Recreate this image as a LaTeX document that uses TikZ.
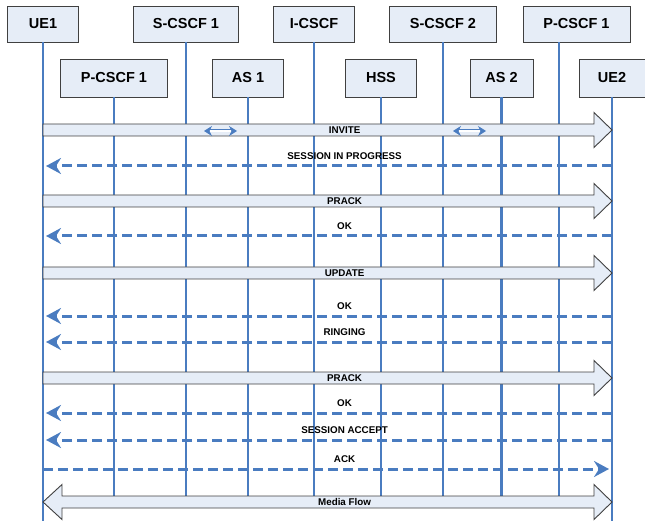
\documentclass[tikz,border=0pt]{standalone}
\usepackage{fontspec}
\setmainfont{Liberation Sans}
\usetikzlibrary{calc,arrows.meta}
\definecolor{lifeBlue}{RGB}{74,124,192}
\definecolor{boxFill}{RGB}{230,237,247}
\definecolor{boxLine}{RGB}{64,64,64}
\newcommand{\BlockMsg}[2]{%
  \draw[blockmsg] ($(ue1.south |- 0,#1)+(0,-6)$) -- ($(ue2.south |- 0,#1)+(-18,-6)$) -- ++(0,-11.5)
    -- (ue2.south |- 0,#1) -- ++(-18,17.5) -- ++(0,-11.5) -- ($(ue1.south |- 0,#1)+(0,6)$) -- cycle;
  \node[msglabel] (m#1) at ($(ue1.south |- 0,#1)!0.53!(ue2.south |- 0,#1)$) {#2};}
\newcommand{\DashMsg}[4]{%
  \draw[dashmsg] (#1.south |- 0,#3) -- (#2.south |- 0,#3);
  \node[msglabel] (m#3) at ($(ue1.south |- 0,#3)!0.53!(ue2.south |- 0,#3)+(0,-10)$) {#4};}

\begin{document}
\begin{tikzpicture}[x=1pt,y=-1pt,
  entity/.style={draw=boxLine,fill=boxFill,line width=0.9pt,inner sep=0pt,minimum height=36pt,
    font=\fontsize{14.5}{16}\selectfont\bfseries},
  lifeline/.style={draw=lifeBlue,line width=2.7pt},
  msglabel/.style={inner sep=0pt,font=\fontsize{9.8}{11}\selectfont\bfseries},
  blockmsg/.style={draw=boxLine,fill=boxFill,line width=0.9pt,line join=miter},
  dashmsg/.style={draw=lifeBlue,line width=3pt,dash pattern=on 10pt off 5pt,shorten >=3pt,
    -{Stealth[length=15pt,width=16pt,inset=5pt]}},
  asloop/.style={draw=lifeBlue,line width=0.7pt,double=white,double distance=1.6pt,
    {Stealth[length=8pt,width=10pt]}-{Stealth[length=8pt,width=10pt]}}]
\useasboundingbox (0,0) rectangle (645,521);

\node[entity,minimum width=71pt] (ue1) at (43,24) {UE1};
\node[entity,minimum width=105pt] (scscf1) at (186,24) {S-CSCF 1};
\node[entity,minimum width=81pt] (icscf) at (314,24) {I-CSCF};
\node[entity,minimum width=107pt] (scscf2) at (443,24) {S-CSCF 2};
\node[entity,minimum width=107pt] (pcscf2) at (576.5,24) {P-CSCF 1};
\node[entity,minimum width=107pt,minimum height=38pt] (pcscf1) at (114,78) {P-CSCF 1};
\node[entity,minimum width=71pt,minimum height=38pt] (as1) at (248,78) {AS 1};
\node[entity,minimum width=71pt,minimum height=38pt] (hss) at (381,78) {HSS};
\node[entity,minimum width=63pt,minimum height=38pt] (as2) at (501.5,78) {AS 2};
\node[entity,minimum width=66pt,minimum height=38pt] (ue2) at (612,78) {UE2};
\coordinate (pcscf2l) at ([xshift=-17.5pt]pcscf2.south);

\draw[lifeline] (ue1.south) -- (ue1.south |- 0,521);
\draw[lifeline] (ue2.south) -- (ue2.south |- 0,521);
\foreach \n in {pcscf1,scscf1,as1,icscf,hss,scscf2,as2,pcscf2l}
  \draw[lifeline] (\n) -- (\n |- 0,497);

\BlockMsg{130}{INVITE}
\draw[asloop] ($(scscf1.south |- 0,131)+(18,0)$) -- ($(as1.south |- 0,131)+(-11,0)$);
\draw[asloop] ($(scscf2.south |- 0,131)+(10,0)$) -- ($(as2.south |- 0,131)+(-15.5,0)$);
\DashMsg{ue2}{ue1}{166}{SESSION IN PROGRESS}
\BlockMsg{201}{PRACK}
\DashMsg{ue2}{ue1}{236}{OK}
\BlockMsg{273}{UPDATE}
\DashMsg{ue2}{ue1}{316}{OK}
\DashMsg{ue2}{ue1}{342}{RINGING}
\BlockMsg{378}{PRACK}
\DashMsg{ue2}{ue1}{413}{OK}
\DashMsg{ue2}{ue1}{440}{SESSION ACCEPT}
\DashMsg{ue1}{ue2}{469}{ACK}

\draw[blockmsg] (ue1.south |- 0,502) -- ++(19,-17.5) -- ++(0,11.5) -- ($(ue2.south |- 0,502)+(-18,-6)$) -- ++(0,-11.5)
  -- (ue2.south |- 0,502) -- ++(-18,17.5) -- ++(0,-11.5) -- ($(ue1.south |- 0,502)+(19,6)$) -- ++(0,11.5) -- cycle;
\node[msglabel] (media) at ($(ue1.south |- 0,502)!0.53!(ue2.south |- 0,502)$) {Media Flow};
\end{tikzpicture}
\end{document}
